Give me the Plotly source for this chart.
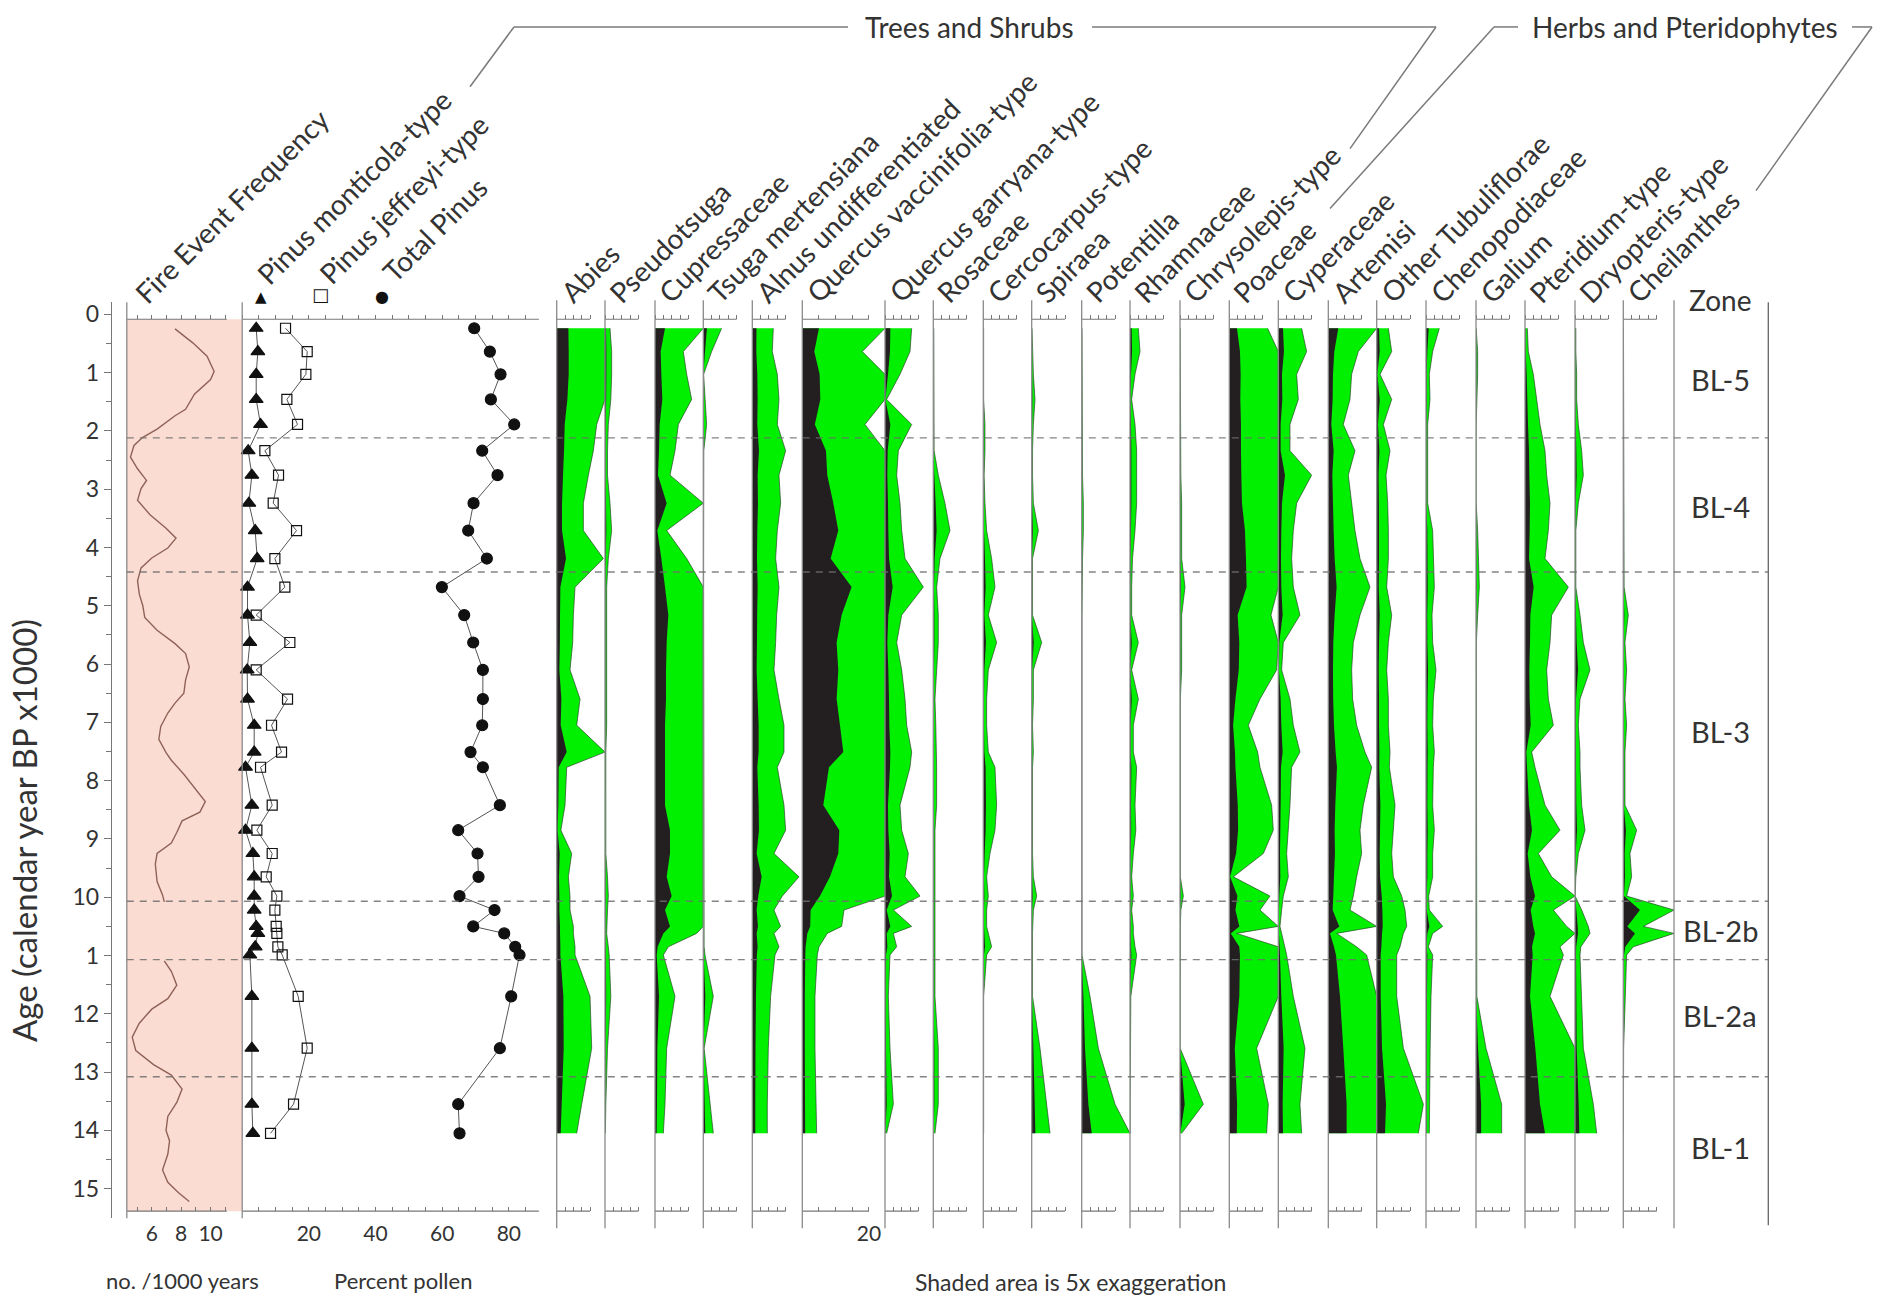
import plotly.graph_objects as go

W, H = 1883, 1303
FONT = "Lato"
TEXT = "#333333"
GREEN = "#00f000"
GREEN_EDGE = "rgba(40,70,40,0.85)"
BLACK = "#231f20"
AXIS_GREY = "#777777"

# ---------------- data ----------------
# sample ages (cal yr BP x1000) shared by pine and pollen series
sample_age = [0.24, 0.64, 1.03, 1.46, 1.89, 2.34, 2.76, 3.24, 3.71, 4.19,
              4.68, 5.16, 5.63, 6.10, 6.60, 7.05, 7.51, 7.77, 8.42, 8.85,
              9.25, 9.65, 9.98, 10.22, 10.50, 10.62, 10.85, 10.99, 11.70, 12.59,
              13.55, 14.05]

# fire event frequency (events / 1000 yr); gap across 10.1-11.1 ka
fire_age = [0.25, 0.49, 0.72, 0.98, 1.12, 1.37, 1.63, 1.74, 1.97, 2.11,
            2.25, 2.45, 2.65, 2.85, 2.99, 3.19, 3.44, 3.67, 3.84, 4.01,
            4.18, 4.35, 4.57, 4.80, 5.00, 5.20, 5.42, 5.65, 5.82, 6.05,
            6.27, 6.50, 6.67, 6.84, 7.07, 7.29, 7.52, 7.65, 7.89, 8.12,
            8.36, 8.54, 8.69, 8.89, 9.07, 9.25, 9.43, 9.73, 9.96, 10.08,
            None,
            11.09, 11.27, 11.51, 11.74, 11.92, 12.16, 12.40, 12.63, 12.87, 13.05,
            13.29, 13.52, 13.76, 14.00, 14.18, 14.41, 14.68, 14.89, 15.07, 15.22]
fire_freq = [7.58, 8.79, 9.76, 10.24, 10.0, 8.9, 8.3, 7.58, 6.36, 5.39,
             4.79, 4.55, 5.03, 5.64, 5.27, 5.03, 5.88, 6.97, 7.65, 7.09,
             6.0, 5.27, 5.03, 5.15, 5.39, 5.52, 6.36, 7.58, 8.30, 8.55,
             8.30, 8.18, 7.58, 7.09, 6.61, 6.48, 6.97, 7.33, 8.18, 8.91,
             9.64, 9.27, 8.06, 7.70, 7.33, 6.36, 6.24, 6.36, 6.73, 6.85,
             None,
             6.85, 7.33, 7.70, 7.09, 6.0, 5.15, 4.67, 4.91, 6.12, 7.33,
             8.06, 7.70, 7.09, 6.97, 7.21, 7.09, 6.73, 7.09, 7.82, 8.55]

# pine pollen (%)
pinus_monticola = [4.2, 4.7, 4.2, 4.2, 5.5, 1.8, 2.9, 2.0, 3.9, 4.5,
                   1.6, 1.6, 2.3, 1.5, 1.6, 3.6, 3.6, 1.0, 2.9, 1.0,
                   3.2, 3.6, 3.6, 3.6, 4.2, 4.7, 3.9, 2.3, 2.9, 2.9,
                   2.9, 3.2]
pinus_jeffreyi = [13.0, 19.5, 19.1, 13.4, 16.6, 6.8, 10.9, 9.3, 16.3, 9.8,
                  12.8, 4.2, 14.3, 4.2, 13.6, 8.8, 11.8, 5.5, 9.0, 4.4,
                  9.0, 7.2, 10.4, 9.8, 10.2, 10.4, 10.7, 12.0, 16.8, 19.5,
                  15.4, 8.5]
pinus_total = [69.6, 74.3, 77.5, 74.6, 81.6, 72.0, 76.6, 69.4, 67.8, 73.4,
               59.9, 66.6, 69.3, 72.2, 72.2, 72.0, 68.5, 72.2, 77.3, 64.8,
               70.6, 70.9, 65.2, 75.7, 69.3, 78.6, 81.9, 83.2, 80.7, 77.3,
               64.8, 65.2]

# pollen percentages per taxon
abies = [3.5, 3.6, 3.6, 3.2, 2.4, 2.2, 1.9, 1.6, 1.6, 2.8,
         1.1, 1.0, 0.96, 0.8, 1.4, 1.2, 3.0, 0.6, 0.5, 0.25,
         0.9, 0.7, 0.8, 0.8, 1.0, 1.0, 1.1, 1.1, 2.0, 2.1,
         1.5, 1.2]
pseudotsuga = [0.3, 0.4, 0.4, 0.35, 0.2, 0.15, 0.15, 0.3, 0.4, 0.2,
               0.1, 0.1, 0.1, 0.1, 0.1, 0.1, 0.05, 0.05, 0.02, 0.02,
               0.05, 0.15, 0.2, 0.15, 0.1, 0.1, 0.2, 0.25, 0.35, 0.15,
               0.05, 0.02]
cupressaceae = [3.0, 1.7, 1.9, 2.2, 1.4, 1.2, 0.9, 3.5, 0.7, 1.9,
                3.0, 4.0, 3.5, 3.3, 3.3, 3.0, 3.0, 3.0, 3.0, 4.5,
                4.5, 3.5, 5.0, 3.0, 4.5, 2.5, 0.8, 0.5, 1.2, 0.7,
                0.6, 0.5]
tsuga = [1.1, 0.5, 0.02, 0.1, 0.2, 0.03, 0.02, 0.02, 0.02, 0.02,
         0.02, 0.02, 0.02, 0.05, 0.02, 0.02, 0.02, 0.02, 0.02, 0.02,
         0.02, 0.02, 0.02, 0.02, 0.02, 0.02, 0.05, 0.1, 0.6, 0.05,
         0.4, 0.6]
alnus = [1.26, 1.2, 1.5, 1.6, 1.5, 2.0, 1.6, 1.7, 1.5, 1.4,
         1.6, 1.46, 1.4, 1.3, 1.6, 1.9, 1.9, 1.5, 1.9, 2.0,
         1.3, 2.8, 1.8, 1.3, 1.7, 1.3, 1.6, 1.36, 1.1, 0.96,
         0.9, 0.9]
quercus_vaccinifolia = [5.0, 3.6, 5.2, 5.4, 3.76, 7.1, 7.5, 9.3, 10.8, 8.5,
                        14.8, 11.8, 10.3, 10.8, 10.3, 11.3, 12.3, 8.0, 6.3, 11.1,
                        10.8, 8.3, 5.3, 2.5, 2.36, 1.5, 1.0, 0.9, 0.76, 0.76,
                        0.82, 0.86]
quercus_garryana = [1.6, 1.5, 0.9, 0.1, 1.6, 0.8, 0.7, 0.9, 1.0, 1.2,
                    2.3, 1.0, 0.7, 1.0, 1.2, 1.3, 1.6, 1.5, 0.9, 1.0,
                    1.4, 1.2, 2.1, 0.5, 1.6, 0.5, 0.7, 0.3, 0.2, 0.3,
                    0.5, 0.1]
rosaceae = [0.03, 0.03, 0.03, 0.03, 0.03, 0.05, 0.3, 0.7, 1.0, 0.4,
            0.2, 0.3, 0.3, 0.2, 0.1, 0.15, 0.2, 0.2, 0.2, 0.1,
            0.1, 0.1, 0.1, 0.1, 0.1, 0.1, 0.1, 0.1, 0.1, 0.3,
            0.3, 0.1]
cercocarpus = [0.02, 0.02, 0.02, 0.02, 0.1, 0.1, 0.05, 0.1, 0.2, 0.5,
               0.7, 0.3, 0.8, 0.3, 0.2, 0.2, 0.3, 0.7, 0.8, 0.7,
               0.4, 0.2, 0.3, 0.2, 0.2, 0.3, 0.5, 0.2, 0.02, 0.02,
               0.02, 0.02]
spiraea = [0.02, 0.05, 0.1, 0.2, 0.1, 0.05, 0.05, 0.1, 0.4, 0.05,
           0.05, 0.05, 0.6, 0.1, 0.1, 0.05, 0.1, 0.05, 0.05, 0.05,
           0.05, 0.1, 0.3, 0.1, 0.05, 0.05, 0.05, 0.05, 0.05, 0.5,
           0.9, 1.1]
potentilla = [0.02, 0.02, 0.02, 0.02, 0.02, 0.02, 0.05, 0.1, 0.1, 0.05,
              0.02, 0.02, 0.02, 0.02, 0.02, 0.02, 0.02, 0.02, 0.02, 0.02,
              0.02, 0.02, 0.02, 0.02, 0.02, 0.02, 0.02, 0.02, 0.5, 1.0,
              2.0, 3.0]
rhamnaceae = [0.5, 0.6, 0.3, 0.1, 0.3, 0.4, 0.4, 0.4, 0.3, 0.15,
              0.1, 0.1, 0.5, 0.1, 0.5, 0.2, 0.2, 0.4, 0.3, 0.35,
              0.2, 0.1, 0.2, 0.1, 0.2, 0.2, 0.3, 0.4, 0.05, 0.01,
              0.01, 0.01]
chrysolepis = [0.01, 0.01, 0.01, 0.01, 0.01, 0.05, 0.05, 0.1, 0.1, 0.1,
               0.3, 0.1, 0.1, 0.1, 0.02, 0.02, 0.02, 0.02, 0.02, 0.02,
               0.02, 0.02, 0.2, 0.05, 0.02, 0.02, 0.02, 0.02, 0.01, 0.01,
               1.4, 0.1]
poaceae = [2.3, 3.2, 3.4, 3.3, 3.5, 3.5, 3.6, 3.8, 4.7, 5.0,
           5.2, 2.5, 3.0, 2.84, 1.84, 1.14, 1.7, 1.84, 2.54, 2.64,
           2.04, 0.24, 2.44, 1.84, 3.0, 0.44, 3.0, 3.2, 3.0, 1.64,
           2.34, 2.24]
cyperaceae = [1.4, 1.7, 1.1, 1.2, 0.7, 0.7, 2.0, 1.1, 0.9, 0.8,
              0.9, 1.3, 0.3, 0.2, 0.7, 0.9, 1.3, 0.8, 0.7, 0.6,
              0.5, 0.6, 0.3, 0.2, 0.1, 0.2, 0.4, 0.5, 0.9, 1.6,
              1.3, 1.4]
artemisia = [3.0, 1.8, 1.4, 1.3, 0.9, 1.6, 1.2, 1.4, 1.6, 1.9,
             2.5, 1.9, 1.5, 1.4, 1.46, 1.7, 2.2, 2.6, 2.1, 1.9,
             2.0, 1.7, 1.5, 1.3, 3.3, 0.5, 1.7, 2.3, 3.5, 4.5,
             5.5, 5.5]
other_tubuliflorae = [0.7, 0.9, 0.2, 0.9, 0.4, 0.8, 0.56, 0.66, 0.7, 0.7,
                      0.6, 0.9, 0.7, 0.6, 0.7, 0.7, 0.8, 0.76, 1.1, 1.0,
                      0.9, 1.0, 1.5, 1.7, 1.8, 1.6, 1.4, 1.2, 1.2, 1.6,
                      2.8, 2.5]
chenopodiaceae = [0.8, 0.4, 0.2, 0.24, 0.1, 0.1, 0.1, 0.1, 0.4, 0.44,
                  0.5, 0.36, 0.4, 0.6, 0.44, 0.4, 0.5, 0.44, 0.4, 0.5,
                  0.4, 0.4, 0.16, 0.2, 1.0, 0.4, 0.14, 0.4, 0.3, 0.25,
                  0.2, 0.2]
galium = [0.01, 0.1, 0.1, 0.05, 0.01, 0.01, 0.01, 0.01, 0.1, 0.15,
          0.2, 0.1, 0.02, 0.02, 0.02, 0.02, 0.02, 0.02, 0.02, 0.02,
          0.02, 0.02, 0.02, 0.02, 0.05, 0.02, 0.02, 0.02, 0.05, 0.6,
          1.54, 1.54]
pteridium = [0.14, 0.2, 0.5, 0.7, 0.9, 1.2, 1.3, 1.5, 1.4, 1.2,
             2.6, 1.6, 1.5, 1.3, 1.4, 1.7, 0.4, 0.6, 1.2, 2.1,
             0.8, 1.6, 3.0, 1.7, 2.5, 3.0, 2.1, 2.3, 1.5, 3.1,
             4.5, 6.0]
dryopteris = [0.05, 0.05, 0.1, 0.1, 0.2, 0.4, 0.5, 0.2, 0.05, 0.05,
              0.05, 0.3, 0.5, 0.9, 0.3, 0.2, 0.3, 0.3, 0.4, 0.6,
              0.2, 0.05, 0.01, 0.4, 0.8, 0.9, 0.35, 0.3, 0.4, 0.5,
              1.1, 1.3]
cheilanthes = [0.01, 0.01, 0.01, 0.01, 0.01, 0.02, 0.05, 0.05, 0.05, 0.05,
               0.05, 0.3, 0.1, 0.2, 0.1, 0.2, 0.1, 0.1, 0.1, 0.8,
               0.4, 0.5, 0.2, 5.0, 1.2, 3.5, 0.6, 0.2, 0.1, 0.02,
               0.01, 0.01]

taxon_names = ["Abies", "Pseudotsuga", "Cupressaceae", "Tsuga mertensiana",
               "Alnus undifferentiated", "Quercus vaccinifolia-type",
               "Quercus garryana-type", "Rosaceae", "Cercocarpus-type", "Spiraea",
               "Potentilla", "Rhamnaceae", "Chrysolepis-type", "Poaceae",
               "Cyperaceae", "Artemisi", "Other Tubuliflorae", "Chenopodiaceae",
               "Galium", "Pteridium-type", "Dryopteris-type", "Cheilanthes"]
taxon_values = [abies, pseudotsuga, cupressaceae, tsuga, alnus, quercus_vaccinifolia,
                quercus_garryana, rosaceae, cercocarpus, spiraea, potentilla,
                rhamnaceae, chrysolepis, poaceae, cyperaceae, artemisia,
                other_tubuliflorae, chenopodiaceae, galium, pteridium,
                dryopteris, cheilanthes]

zone_bounds = [2.12, 4.42, 10.07, 11.07, 13.08]
zone_names = ["BL-5", "BL-4", "BL-3", "BL-2b", "BL-2a", "BL-1"]
zone_label_age = [1.12, 3.30, 7.15, 10.57, 12.03, 14.29]

age_tickvals = list(range(16))
age_ticktext = ["0", "1", "2", "3", "4", "5", "6", "7", "8", "9",
                "10", "1", "12", "13", "14", "15"]

EXAGGERATION = 5

for vals in taxon_values + [pinus_monticola, pinus_jeffreyi, pinus_total]:
    assert len(vals) == len(sample_age)

# ---------------- layout geometry (pixels) ----------------
AGE0_PX, PX_PER_KYR = 312.0, 58.43
PX_PER_PCT = 10.0 / 3.0
PLOT_TOP_PX, PLOT_BOT_PX = 300, 1218
TOP_AXIS_PX, BOT_AXIS_PX = 317, 1211
YAXIS_X_PX = 111
FIRE_LEFT_PX, FIRE_RIGHT_PX = 126.8, 242.2
FIRE_MIN, FIRE_PX_PER_UNIT = 4.3, 14.7
PINUS_LEFT_PX, PINUS_RIGHT_PX = 242.2, 545.0
PANEL_LEFT_PX = [556.7, 605.0, 655.0, 703.3, 752.3, 802.3, 885.0, 933.3, 983.3,
                 1031.7, 1081.7, 1130.0, 1180.0, 1229.3, 1278.3, 1328.3, 1376.7,
                 1426.0, 1476.0, 1525.0, 1575.0, 1623.3]
ZONE_LEFT_PX, ZONE_RIGHT_PX = 1674.0, 1768.3


def px(x):
    return x / W


def py(y):
    return 1 - y / H


def age_at(ypx):
    return (ypx - AGE0_PX) / PX_PER_KYR


fig = go.Figure()
layout_axes = {}
shapes = []
annotations = []
n_base = 2 + len(taxon_names)


def axis_name(k):
    return "x" if k == 1 else f"x{k}"


def add_axes(k, left, right, rng, ticks_top, ticks_bot, ticktext_bot=None):
    common = dict(domain=[px(left), px(right)], range=rng, anchor="free",
                  showgrid=False, zeroline=False, showline=False,
                  tickcolor=AXIS_GREY, tickwidth=1, ticklen=4, fixedrange=True)
    layout_axes["xaxis" if k == 1 else f"xaxis{k}"] = dict(
        common, position=py(TOP_AXIS_PX), side="top", ticks="outside",
        tickmode="array", tickvals=ticks_top, showticklabels=False)
    kb = k + n_base
    layout_axes[f"xaxis{kb}"] = dict(
        common, position=py(BOT_AXIS_PX), side="bottom", ticks="inside",
        overlaying=axis_name(k), tickmode="array", tickvals=ticks_bot,
        ticktext=ticktext_bot if ticktext_bot else [""] * len(ticks_bot),
        showticklabels=bool(ticktext_bot), ticklabelstandoff=8,
        tickfont=dict(family=FONT, size=21, color=TEXT))
    fig.add_trace(go.Scatter(x=[None], y=[None], xaxis=f"x{kb}", yaxis="y",
                             showlegend=False, hoverinfo="skip"))


def tick_line(k, x0, x1):
    for ypix in (TOP_AXIS_PX, BOT_AXIS_PX):
        shapes.append(dict(type="line", xref=axis_name(k), yref="paper",
                           x0=x0, x1=x1, y0=py(ypix), y1=py(ypix),
                           line=dict(color=AXIS_GREY, width=1.2), layer="above"))


def vline(xpix, top, bot, width=1.3, color="#8a8a8a"):
    shapes.append(dict(type="line", xref="paper", yref="paper", x0=px(xpix), x1=px(xpix),
                       y0=py(top), y1=py(bot), line=dict(color=color, width=width),
                       layer="above"))


# ---- fire event frequency panel ----
fire_max = FIRE_MIN + (FIRE_RIGHT_PX - FIRE_LEFT_PX) / FIRE_PX_PER_UNIT
add_axes(1, FIRE_LEFT_PX, FIRE_RIGHT_PX, [FIRE_MIN, fire_max],
         [5, 6, 7, 8, 9, 10, 11], [5, 6, 7, 8, 9, 10, 11],
         ["", "6", "", "8", "", "10", ""])
tick_line(1, FIRE_MIN, 11.1)
shapes.append(dict(type="rect", xref="paper", yref="paper",
                   x0=px(FIRE_LEFT_PX), x1=px(FIRE_RIGHT_PX),
                   y0=py(BOT_AXIS_PX), y1=py(TOP_AXIS_PX),
                   fillcolor="#fbdcd2", line=dict(width=0), layer="below"))
fig.add_trace(go.Scatter(x=fire_freq, y=fire_age, xaxis="x", yaxis="y", mode="lines",
                         line=dict(color="#8f6258", width=1.4), connectgaps=False,
                         showlegend=False, hoverinfo="skip"))
vline(FIRE_LEFT_PX, PLOT_TOP_PX, PLOT_BOT_PX)

# ---- Pinus panel ----
pinus_max = (PINUS_RIGHT_PX - PINUS_LEFT_PX) / PX_PER_PCT
pin_ticks = list(range(0, 90, 5))
add_axes(2, PINUS_LEFT_PX, PINUS_RIGHT_PX, [0, pinus_max], pin_ticks, pin_ticks,
         [str(t) if t in (20, 40, 60, 80) else "" for t in pin_ticks])
tick_line(2, 0, 89)
vline(PINUS_LEFT_PX, PLOT_TOP_PX, PLOT_BOT_PX)
for vals, sym, size in ((pinus_monticola, "triangle-up", 12),
                        (pinus_jeffreyi, "square-open", 10),
                        (pinus_total, "circle", 11)):
    fig.add_trace(go.Scatter(x=vals, y=sample_age, xaxis="x2", yaxis="y",
                             mode="lines+markers", cliponaxis=False,
                             line=dict(color="#555555", width=1),
                             marker=dict(symbol=sym, size=size, color="#111111",
                                         line=dict(color="#111111", width=1.2)),
                             showlegend=False, hoverinfo="skip"))

# ---- pollen panels: 5x exaggeration (green) behind the percentage (black) ----
edges = PANEL_LEFT_PX + [ZONE_LEFT_PX]
for i, (name, vals) in enumerate(zip(taxon_names, taxon_values)):
    k = i + 3
    left, right = edges[i], edges[i + 1]
    xmax = (right - left) / PX_PER_PCT
    wide = xmax > 20
    scale_end = 20 if wide else 10
    top_ticks = [0, 5, 10, 15, 20] if wide else [0, 2.5, 5, 7.5, 10]
    add_axes(k, left, right, [0, xmax], top_ticks, top_ticks,
             ["", "", "", "", "20"] if wide else None)
    tick_line(k, 0, scale_end)
    exaggerated = [min(EXAGGERATION * v, xmax) for v in vals]
    fig.add_trace(go.Scatter(x=exaggerated, y=sample_age, xaxis=f"x{k}", yaxis="y",
                             mode="lines", fill="tozerox", fillcolor=GREEN,
                             line=dict(color=GREEN_EDGE, width=0.8),
                             showlegend=False, hoverinfo="skip"))
    fig.add_trace(go.Scatter(x=vals, y=sample_age, xaxis=f"x{k}", yaxis="y",
                             mode="none", fill="tozerox", fillcolor=BLACK,
                             showlegend=False, hoverinfo="skip"))
    vline(left, 298, 1228)

vline(ZONE_LEFT_PX, 298, 1228)
vline(ZONE_RIGHT_PX, 300, 1225, color="#666666")

# ---- zone boundaries ----
for b in zone_bounds:
    shapes.append(dict(type="line", xref="paper", yref="y", x0=px(FIRE_LEFT_PX),
                       x1=px(ZONE_RIGHT_PX), y0=b, y1=b,
                       line=dict(color="rgba(110,110,110,0.85)", width=1.4, dash="7px,6px"),
                       layer="above"))

# ---- text ----
def note(text, xpix, ypix, size, **kw):
    d = dict(text=text, x=px(xpix), y=py(ypix), xref="paper", yref="paper",
             showarrow=False, xanchor="center", yanchor="middle",
             font=dict(family=FONT, size=size, color=TEXT))
    d.update(kw)
    annotations.append(d)


LABEL_SIZE = 28


def slanted(text, sx, sy, size=LABEL_SIZE):
    annotations.append(dict(text=text, x=px(sx - 0.75 * size), y=py(sy + 0.2 * size),
                            xref="paper", yref="paper", xanchor="left", yanchor="bottom",
                            textangle=-45, showarrow=False,
                            font=dict(family=FONT, size=size, color=TEXT)))


slanted("Fire Event Frequency", 146, 305)
slanted("Pinus monticola-type", 268, 286)
slanted("Pinus jeffreyi-type", 330, 285)
slanted("Total Pinus", 394, 283)
for name, left in zip(taxon_names, PANEL_LEFT_PX):
    slanted(name, left + 15, 304)

note("▲", 261, 295, 15, font=dict(family="DejaVu Sans", size=15, color="#111"))
note("□", 320, 292, 18, font=dict(family="DejaVu Sans", size=18, color="#111"))
note("●", 382, 294, 16, font=dict(family="DejaVu Sans", size=16, color="#111"))

note("Zone", 1720, 298, 28)
for zn, za in zip(zone_names, zone_label_age):
    annotations.append(dict(text=zn, x=px(1720), y=za, xref="paper", yref="y",
                            showarrow=False, xanchor="center", yanchor="middle",
                            font=dict(family=FONT, size=29, color=TEXT)))

note("Age (calendar year BP x1000)", 24, 830, 33, textangle=-90)
note("no. /1000 years", 182, 1280, 22)
note("Percent pollen", 403, 1280, 22)
note("Shaded area is 5x exaggeration", 1070, 1282, 23)

note("Trees and Shrubs", 969, 24, 28)
note("Herbs and Pteridophytes", 1685, 24, 28)


def bracket(points):
    for (x0, y0), (x1, y1) in zip(points[:-1], points[1:]):
        shapes.append(dict(type="line", xref="paper", yref="paper",
                           x0=px(x0), y0=py(y0), x1=px(x1), y1=py(y1),
                           line=dict(color="#7a7a7a", width=1.5)))


bracket([(470, 84), (514, 24), (848, 24)])
bracket([(1092, 24), (1436, 24), (1350, 146)])
bracket([(1330, 206), (1494, 24), (1518, 24)])
bracket([(1852, 24), (1872, 24), (1756, 188)])

fig.update_layout(
    width=W, height=H, autosize=False,
    margin=dict(l=0, r=0, t=0, b=0),
    paper_bgcolor="white", plot_bgcolor="white",
    showlegend=False,
    yaxis=dict(domain=[py(PLOT_BOT_PX), py(PLOT_TOP_PX)],
               range=[age_at(PLOT_BOT_PX), age_at(PLOT_TOP_PX)],
               anchor="free", position=px(YAXIS_X_PX), side="left",
               showline=True, linecolor=AXIS_GREY, linewidth=1.4,
               showgrid=False, zeroline=False,
               ticks="outside", ticklen=7, tickcolor=AXIS_GREY, tickwidth=1.2,
               tickmode="array", tickvals=age_tickvals, ticktext=age_ticktext,
               minor=dict(tickmode="array", tickvals=[v + 0.5 for v in range(15)],
                          ticks="outside", ticklen=5, tickcolor=AXIS_GREY),
               tickfont=dict(family=FONT, size=23, color=TEXT), fixedrange=True),
    shapes=shapes,
    annotations=annotations,
    **layout_axes,
)

fig.write_html("out.html")
